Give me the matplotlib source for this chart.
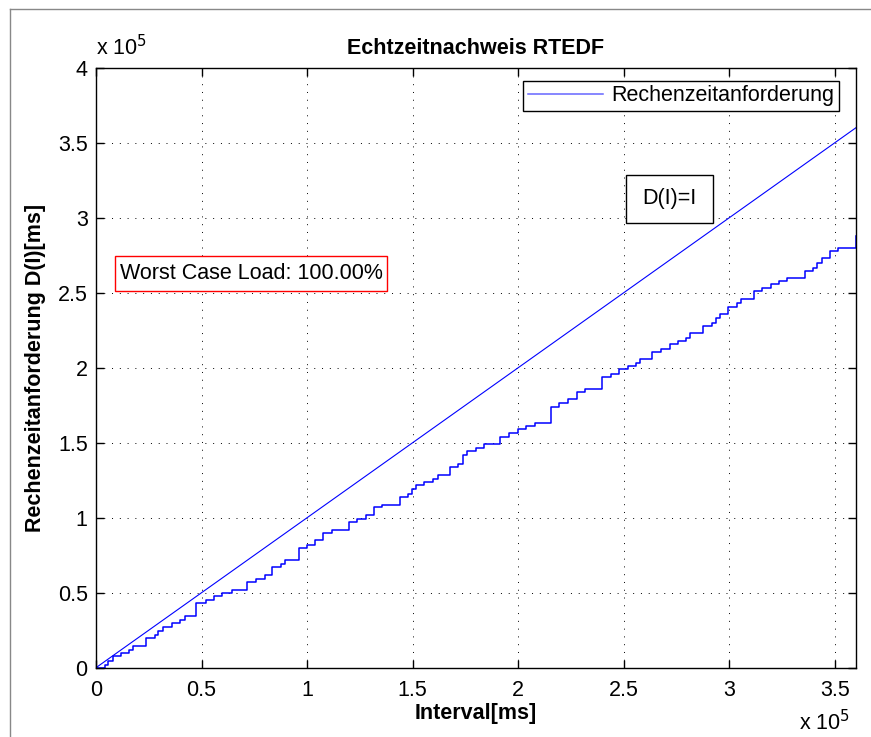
import matplotlib
matplotlib.use("Agg")
import matplotlib.pyplot as plt
from matplotlib.lines import Line2D
from matplotlib.patches import Rectangle
import numpy as np

plt.rcParams['font.family'] = ['Liberation Sans', 'DejaVu Sans']

# ---- data (units of 1e5 ms) ----
step_x = [0.0, 0.043, 0.058, 0.079, 0.117, 0.158, 0.177, 0.236, 0.279, 0.295,
          0.318, 0.358, 0.397, 0.421, 0.476, 0.520, 0.558, 0.599, 0.642, 0.716,
          0.757, 0.800, 0.836, 0.878, 0.897, 0.960, 0.999, 1.036, 1.075, 1.118,
          1.197, 1.238, 1.277, 1.317, 1.356, 1.438, 1.477, 1.496, 1.517, 1.556,
          1.596, 1.619, 1.678, 1.717, 1.738, 1.757, 1.798, 1.837, 1.914, 1.955,
          1.998, 2.037, 2.080, 2.156, 2.195, 2.238, 2.277, 2.318, 2.397, 2.438,
          2.479, 2.518, 2.558, 2.576, 2.636, 2.676, 2.717, 2.757, 2.796, 2.815,
          2.876, 2.916, 2.936, 2.957, 2.996, 3.035, 3.056, 3.117, 3.157, 3.196,
          3.236, 3.275, 3.357, 3.396, 3.414, 3.438, 3.477, 3.516, 3.600]
step_y = [0.0, 0.018, 0.047, 0.078, 0.100, 0.120, 0.147, 0.200, 0.218, 0.247,
          0.273, 0.300, 0.318, 0.345, 0.433, 0.451, 0.478, 0.500, 0.518, 0.573,
          0.589, 0.618, 0.669, 0.691, 0.718, 0.800, 0.818, 0.849, 0.900, 0.920,
          0.969, 0.989, 1.018, 1.069, 1.087, 1.140, 1.158, 1.189, 1.216, 1.236,
          1.258, 1.287, 1.340, 1.358, 1.416, 1.447, 1.467, 1.489, 1.540, 1.562,
          1.589, 1.611, 1.629, 1.740, 1.762, 1.789, 1.840, 1.858, 1.940, 1.958,
          1.989, 2.009, 2.029, 2.060, 2.107, 2.127, 2.157, 2.180, 2.200, 2.229,
          2.278, 2.300, 2.329, 2.358, 2.407, 2.429, 2.458, 2.511, 2.529, 2.556,
          2.580, 2.596, 2.647, 2.667, 2.700, 2.729, 2.778, 2.796, 2.878]
line_x = [0.0, 3.6]
line_y = [0.0, 3.6]
x_ticks = [0, 0.5, 1, 1.5, 2, 2.5, 3, 3.5]
y_ticks = [0, 0.5, 1, 1.5, 2, 2.5, 3, 3.5, 4]
x_tick_labels = ['0', '0.5', '1', '1.5', '2', '2.5', '3', '3.5']
y_tick_labels = ['0', '0.5', '1', '1.5', '2', '2.5', '3', '3.5', '4']
scale = 1e5

title = 'Echtzeitnachweis RTEDF'
xlabel = 'Interval[ms]'
ylabel = 'Rechenzeitanforderung D(I)[ms]'
legend_label = 'Rechenzeitanforderung'
wcl_text = 'Worst Case Load: 100.00%'
dii_text = 'D(I)=I'

FS = 15.5

fig = plt.figure(figsize=(8.71, 7.37), dpi=100)
ax = fig.add_axes([96/871, 1-667.7/737, 760/871, 600/737])

sx = np.array(step_x) * scale
sy = np.array(step_y) * scale
ax.step(sx, sy, where='post', color='#0000ff', lw=1.1, label=legend_label)
ax.plot(np.array(line_x) * scale, np.array(line_y) * scale, color='#0000ff', lw=0.8)

ax.set_xlim(0, 3.6 * scale)
ax.set_ylim(0, 4 * scale)
ax.set_xticks(np.array(x_ticks) * scale)
ax.set_xticklabels(x_tick_labels)
ax.set_yticks(np.array(y_ticks) * scale)
ax.set_yticklabels(y_tick_labels)
ax.tick_params(direction='in', length=6, width=1.0, top=True, right=True,
               labelsize=FS, pad=9)
ax.tick_params(axis='y', pad=6)
for s in ax.spines.values():
    s.set_linewidth(1.0)
ax.grid(True, color='#000000', linestyle=(0, (1, 7)), lw=0.7)

ax.set_title(title, fontsize=FS, fontweight='bold', pad=10)
ax.set_xlabel(xlabel, fontsize=FS, fontweight='bold')
ax.set_ylabel(ylabel, fontsize=FS, fontweight='bold')
ax.xaxis.set_label_coords(0.5, -0.058)
ax.yaxis.set_label_coords(-0.066, 0.5)

# exponent labels
ax.text(0.0, 1.012, r'x 10$^5$', transform=ax.transAxes, ha='left', va='bottom',
        fontsize=FS)
ax.text(0.992, -0.112, r'x 10$^5$', transform=ax.transAxes, ha='right', va='bottom',
        fontsize=FS)

# legend
leg = ax.legend(loc='upper right', bbox_to_anchor=(0.9776, 0.978), borderaxespad=0,
                fontsize=FS, frameon=True, fancybox=False, edgecolor='black',
                framealpha=1, handlelength=3.5, handletextpad=0.4, borderpad=0.2)
leg.get_frame().set_linewidth(1.0)
leg.get_lines()[0].set_color('#6666ff')

# text boxes
ax.add_patch(Rectangle((0.025, 0.6283), 0.3579, 0.0579, transform=ax.transAxes,
                       facecolor='white', edgecolor='red', lw=1.0, zorder=5))
ax.text(0.2039, 0.6572, wcl_text, transform=ax.transAxes, ha='center', va='center',
        fontsize=FS, zorder=6)
ax.add_patch(Rectangle((0.6974, 0.7417), 0.1140, 0.0790, transform=ax.transAxes,
                       facecolor='white', edgecolor='black', lw=1.0, zorder=5))
ax.text(0.7544, 0.7812, dii_text, transform=ax.transAxes, ha='center', va='center',
        fontsize=FS, zorder=6)

# window frame lines (top and left)
fig.add_artist(Line2D([10/871, 10/871], [0, 1-9/737], transform=fig.transFigure,
                      color='#888888', lw=1.0))
fig.add_artist(Line2D([10/871, 1], [1-9/737, 1-9/737], transform=fig.transFigure,
                      color='#888888', lw=1.0))

fig.savefig('out.png', dpi=100)
